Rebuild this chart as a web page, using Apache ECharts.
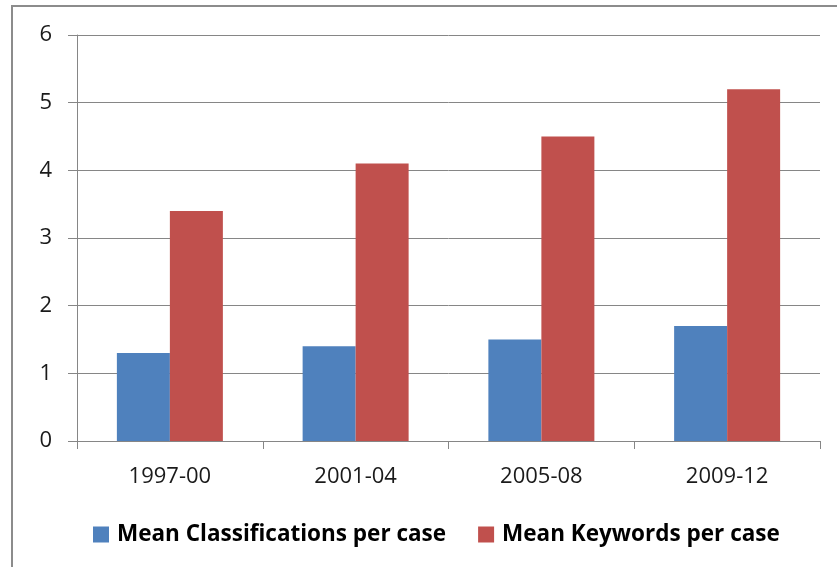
<!DOCTYPE html>
<html>
<head>
<meta charset="UTF-8">
<script type="text/javascript" src="https://cdn.jsdelivr.net/npm/echarts@6/dist/echarts.min.js"></script>
<style>
  html, body { margin: 0; padding: 0; background: #fff; }
  #chartmain { width: 837px; height: 567px; }
</style>
</head>
<body>
<div id="chartmain"></div>
<script type="text/javascript">
	// data
	var categories = ['1997-00', '2001-04', '2005-08', '2009-12'];
	var classifications = [1.3, 1.4, 1.5, 1.7];
	var keywords = [3.4, 4.1, 4.5, 5.2];
	var yTicks = [0, 6, 1]; // min, max, interval

	var font = "'Open Sans', 'Liberation Sans', sans-serif";

	var option = {
		animation: false,
		backgroundColor: '#fff',
		graphic: [{
			type: 'rect',
			shape: { x: 12, y: 6, width: 900, height: 700 },
			style: { fill: 'none', stroke: '#8c8c8c', lineWidth: 2 },
			silent: true
		}],
		legend: {
			data: ['Mean Classifications per case', 'Mean Keywords per case'],
			left: 88,
			top: 518,
			itemWidth: 16,
			itemHeight: 16,
			itemGap: 32,
			icon: 'rect',
			textStyle: { fontFamily: font, fontSize: 22.5, fontWeight: 'bold', color: '#000', padding: [0, 0, 0, 3] }
		},
		grid: { left: 77, right: 17, top: 35, bottom: 126 },
		xAxis: {
			type: 'category',
			data: categories,
			axisLine: { lineStyle: { color: '#868686', width: 1 } },
			axisTick: { show: true, length: 8, lineStyle: { color: '#868686' } },
			axisLabel: { fontFamily: font, fontSize: 22, color: '#1a1a1a', margin: 25 }
		},
		yAxis: {
			type: 'value',
			min: yTicks[0],
			max: yTicks[1],
			interval: yTicks[2],
			axisLine: { show: true, lineStyle: { color: '#868686', width: 1 } },
			axisTick: { show: true, length: 9, lineStyle: { color: '#868686' } },
			axisLabel: { fontFamily: font, fontSize: 22, color: '#1a1a1a', margin: 25 },
			splitLine: { lineStyle: { color: '#868686', width: 1 } }
		},
		series: [
			{
				name: 'Mean Classifications per case',
				type: 'bar',
				data: classifications,
				barWidth: 53,
				barGap: '0%',
				itemStyle: { color: '#4F81BD' }
			},
			{
				name: 'Mean Keywords per case',
				type: 'bar',
				data: keywords,
				barWidth: 53,
				barGap: '0%',
				itemStyle: { color: '#C0504D' }
			}
		]
	};

	var myChart = echarts.init(document.getElementById('chartmain'));
	myChart.setOption(option);
</script>
</body>
</html>
